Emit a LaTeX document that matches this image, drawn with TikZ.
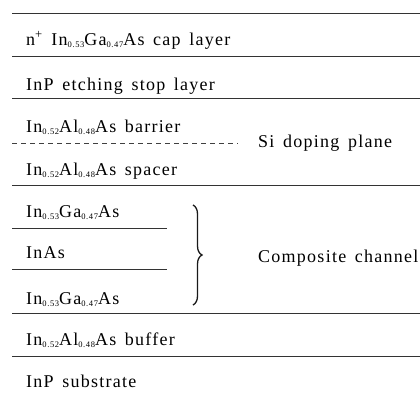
\documentclass[tikz,border=0pt]{standalone}
\usepackage{fontspec}
\setmainfont{Liberation Serif}[LetterSpace=7,WordSpace=1.5]
\usetikzlibrary{positioning,decorations.pathreplacing}
\newcommand{\chsub}[1]{\raisebox{-2.5pt}{\fontsize{8.5}{9}\selectfont #1}}
\tikzset{
  layer text/.style={anchor=base west,inner sep=0pt,font=\fontsize{18}{20}\selectfont},
  layer line/.style={draw=black!80,line width=1pt},
  doping line/.style={draw=black!75,line width=0.9pt,dash pattern=on 5pt off 4pt},
  channel brace/.style={draw=black!90,line width=1.3pt,decorate,
    decoration={brace,amplitude=9pt,aspect=0.5}}
}
\begin{document}
\begin{tikzpicture}[x=1pt,y=-1pt]
\useasboundingbox (0,0) rectangle (420,394);
% ---- layer boundaries ----
\foreach \y in {13,56,98,185,313,356}{
  \draw[layer line] (12,\y) -- (420,\y);}
\foreach \y in {228,269}{
  \draw[layer line] (12,\y) -- (167,\y);}
\draw[doping line] (12,143) -- (238,143);
% ---- layer names ----
\node[layer text] (cap) at (26,45) {n\textsuperscript{+} In\chsub{0.53}Ga\chsub{0.47}As cap layer};
\node[layer text] (stop) at (26,90) {InP etching stop layer};
\node[layer text] (barrier) at (26,132) {In\chsub{0.52}Al\chsub{0.48}As barrier};
\node[layer text] (spacer) at (26,175) {In\chsub{0.52}Al\chsub{0.48}As spacer};
\node[layer text] (chtop) at (26,217) {In\chsub{0.53}Ga\chsub{0.47}As};
\node[layer text] (chmid) at (26,258) {InAs};
\node[layer text] (chbot) at (26,304) {In\chsub{0.53}Ga\chsub{0.47}As};
\node[layer text] (buffer) at (26,345) {In\chsub{0.52}Al\chsub{0.48}As buffer};
\node[layer text] (sub) at (26,387) {InP substrate};
% ---- right-hand notes ----
\node[layer text] (doping) at (258,147) {Si doping plane};
\coordinate (brtop) at (193,205);
\coordinate (brbot) at (193,305);
\draw[channel brace] (brtop) -- (brbot);
\node[layer text] (channel) at (258,262) {Composite channel};
\end{tikzpicture}
\end{document}
